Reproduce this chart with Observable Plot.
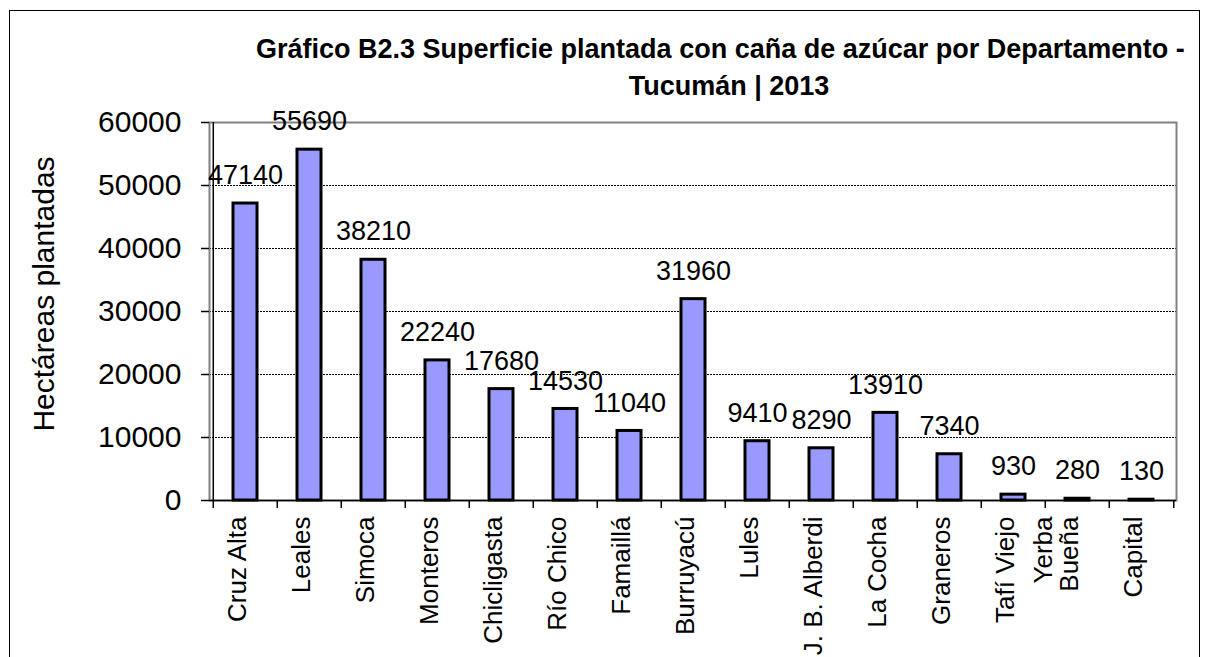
<!DOCTYPE html>
<html>
<head>
<meta charset="utf-8">
<script src="https://cdn.jsdelivr.net/npm/d3@7"></script>
<script src="https://cdn.jsdelivr.net/npm/@observablehq/plot@0.6"></script>
<style>
  body { margin: 0; background: #fff; }
  #wrap { position: relative; width: 1206px; height: 657px; overflow: hidden; font-family: Arial, "Liberation Sans", sans-serif; }
  #frame { position: absolute; left: 9px; top: 10px; width: 1189px; height: 700px; border: 1.5px solid #000; pointer-events: none; }
  #title { position: absolute; left: 0; top: 31px; width: 1206px; font-weight: bold; font-size: 27px; color: #000; line-height: 37px; }
  #title .l1 { position: absolute; left: 256px; top: 0; white-space: nowrap; }
  #title .l2 { position: absolute; left: 0; top: 37px; width: 1458px; text-align: center; white-space: nowrap; }
  #ylab { position: absolute; left: 44px; top: 294px; font-size: 30px; color: #000; white-space: nowrap; transform: translate(-50%, -50%) rotate(-90deg); }
  #chart { position: absolute; left: 0; top: 0; }
</style>
</head>
<body>
<div id="wrap">
  <div id="chart"></div>
  <div id="title"><span class="l1">Gráfico B2.3 Superficie plantada con caña de azúcar por Departamento -</span><span class="l2">Tucumán | 2013</span></div>
  <div id="ylab"></div>
  <div id="frame"></div>
</div>
<script>
const departamentos = ["Cruz Alta","Leales","Simoca","Monteros","Chicligasta","Río Chico","Famaillá","Burruyacú","Lules","J. B. Alberdi","La Cocha","Graneros","Tafí Viejo","Yerba\nBueña","Capital"];
const hectareas = [47140,55690,38210,22240,17680,14530,11040,31960,9410,8290,13910,7340,930,280,130];
const yTicks = [0,10000,20000,30000,40000,50000,60000];
const yLabel = "Hectáreas plantadas";

document.getElementById("ylab").textContent = yLabel;

const data = departamentos.map((d, i) => ({dep: d, val: hectareas[i]}));

const W = 1206, H = 657, mL = 209, mR = 30, mT = 122, mB = 157;
const bw = (W - mL - mR) / departamentos.length;

const chart = Plot.plot({
  width: W, height: H,
  marginLeft: mL, marginRight: mR, marginTop: mT, marginBottom: mB,
  style: { fontFamily: "Arial, 'Liberation Sans', sans-serif", background: "transparent", color: "#000" },
  x: { domain: departamentos, padding: 0, axis: null },
  y: { domain: [0, 60000], axis: null },
  marks: [
    Plot.gridY(yTicks.slice(1, -1), { stroke: "#000", strokeOpacity: 1, strokeWidth: 1, strokeDasharray: "2,1" }),
    Plot.frame({ stroke: "#808080", strokeWidth: 2 }),
    Plot.barY(data, { x: "dep", y: "val", fill: "#9999ff", stroke: "#000", strokeWidth: 3, insetLeft: 20, insetRight: 20 }),
    Plot.ruleY([0], { stroke: "#000", strokeWidth: 1.5 }),
    Plot.ruleX([departamentos[0]], { dx: -bw / 2, stroke: "#000", strokeWidth: 1.5 }),
    Plot.axisY({ ticks: yTicks, tickSize: 8, tickPadding: 20, fontSize: 30, tickFormat: d3.format("d"), label: null, strokeWidth: 1.5 }),
    Plot.axisX({ ticks: departamentos, tickSize: 8, dx: -bw / 2, tickFormat: () => "", label: null, strokeWidth: 1.5 }),
    Plot.axisX({ ticks: [departamentos[departamentos.length - 1]], tickSize: 8, dx: bw / 2, tickFormat: () => "", label: null, strokeWidth: 1.5 }),
    Plot.text(data, { x: "dep", y: "val", text: d => String(d.val), dy: -28, fontSize: 27, fill: "#000" }),
    Plot.text(departamentos, { x: d => d, frameAnchor: "bottom", rotate: -90, textAnchor: "end", dy: 16, fontSize: 26, lineHeight: 1.0, fill: "#000" })
  ]
});
document.getElementById("chart").appendChild(chart);
</script>
</body>
</html>
